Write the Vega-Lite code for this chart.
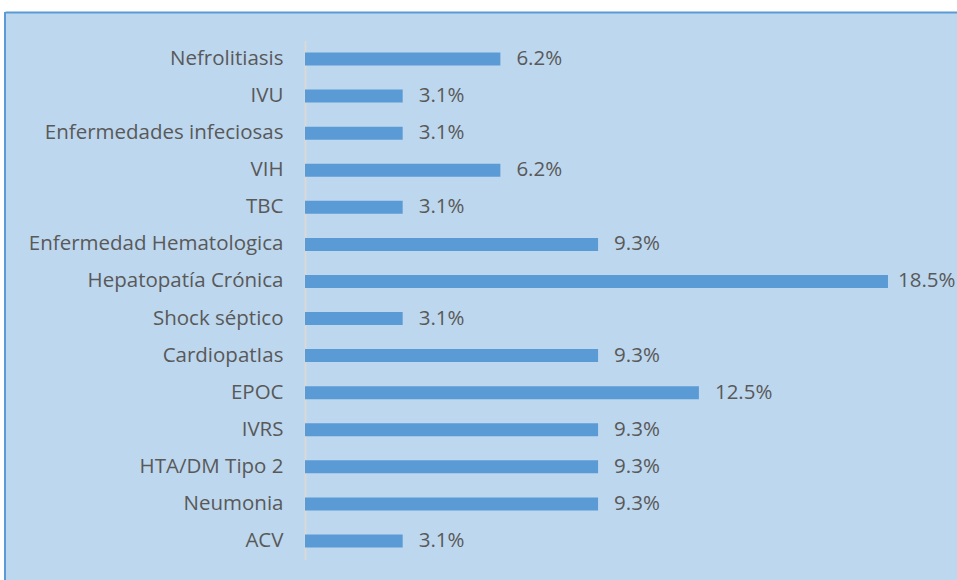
{
  "$schema": "https://vega.github.io/schema/vega-lite/v6.json",
  "width": 952,
  "height": 569,
  "autosize": {"type": "none"},
  "padding": {"left": 5, "top": 12, "right": 0, "bottom": 0},
  "background": "white",
  "config": {"view": {"fill": "#BDD7EE", "stroke": null}},
  "data": {
    "values": [
      {"cause": "Nefrolitiasis", "pct": 0.062},
      {"cause": "IVU", "pct": 0.031},
      {"cause": "Enfermedades infeciosas", "pct": 0.031},
      {"cause": "VIH", "pct": 0.062},
      {"cause": "TBC", "pct": 0.031},
      {"cause": "Enfermedad Hematologica", "pct": 0.093},
      {"cause": "Hepatopatía Crónica", "pct": 0.185},
      {"cause": "Shock séptico", "pct": 0.031},
      {"cause": "CardiopatIas", "pct": 0.093},
      {"cause": "EPOC", "pct": 0.125},
      {"cause": "IVRS", "pct": 0.093},
      {"cause": "HTA/DM Tipo 2", "pct": 0.093},
      {"cause": "Neumonia", "pct": 0.093},
      {"cause": "ACV", "pct": 0.031}
    ]
  },
  "layer": [
    {
      "mark": {"type": "rule", "color": "#5B9BD5", "strokeWidth": 2},
      "encoding": {"x": {"datum": -0.0952, "type": "quantitative"}}
    },
    {
      "mark": {"type": "bar", "color": "#5B9BD5"},
      "encoding": {
        "y": {
          "field": "cause",
          "type": "nominal",
          "sort": null,
          "scale": {"range": [28.5, 547.5], "paddingInner": 0.65, "paddingOuter": 0.325},
          "axis": {
            "title": null,
            "orient": "left",
            "offset": -300,
            "ticks": false,
            "grid": false,
            "domainColor": "#D9D9D9",
            "domainWidth": 2,
            "labelPadding": 22,
            "labelLimit": 0,
            "labelFont": "Open Sans",
            "labelFontSize": 20.5,
            "labelColor": "#595959"
          }
        },
        "x": {
          "field": "pct",
          "type": "quantitative",
          "scale": {"domain": [-0.0952, 0.2069], "nice": false, "zero": false},
          "axis": {"orient": "top", "labels": false, "ticks": false, "grid": false, "title": null, "domainColor": "#5B9BD5", "domainWidth": 2}
        },
        "x2": {"datum": 0}
      }
    },
    {
      "transform": [{"filter": "datum.pct < 0.18"}],
      "mark": {"type": "text", "align": "left", "baseline": "middle", "dx": 16, "font": "Open Sans", "fontSize": 20.5, "color": "#595959"},
      "encoding": {
        "y": {"field": "cause", "type": "nominal", "sort": null},
        "x": {"field": "pct", "type": "quantitative"},
        "text": {"field": "pct", "type": "quantitative", "format": ".1%"}
      }
    },
    {
      "transform": [{"filter": "datum.pct >= 0.18"}],
      "mark": {"type": "text", "align": "left", "baseline": "middle", "dx": 10, "font": "Open Sans", "fontSize": 20.5, "color": "#595959"},
      "encoding": {
        "y": {"field": "cause", "type": "nominal", "sort": null},
        "x": {"field": "pct", "type": "quantitative"},
        "text": {"field": "pct", "type": "quantitative", "format": ".1%"}
      }
    }
  ]
}
